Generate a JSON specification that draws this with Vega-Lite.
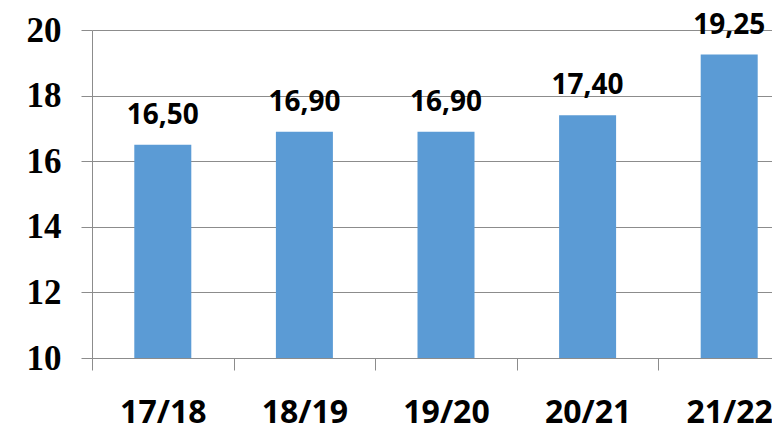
{
  "$schema": "https://vega.github.io/schema/vega-lite/v6.json",
  "autosize": "none",
  "width": 708,
  "height": 328,
  "padding": {"left": 92, "top": 30, "right": 0, "bottom": 75},
  "background": "white",
  "config": {"view": {"stroke": null}},
  "data": {"values": [
    {"season": "17/18", "value": 16.5, "label": "16,50"},
    {"season": "18/19", "value": 16.9, "label": "16,90"},
    {"season": "19/20", "value": 16.9, "label": "16,90"},
    {"season": "20/21", "value": 17.4, "label": "17,40"},
    {"season": "21/22", "value": 19.25, "label": "19,25"}
  ]},
  "encoding": {
    "x": {"field": "season", "type": "nominal", "sort": null,
      "scale": {"paddingInner": 0, "paddingOuter": 0},
      "axis": {"title": null, "labelAngle": 0, "tickBand": "extent", "tickSize": 12,
        "tickColor": "#8c8c8c", "domainColor": "#8c8c8c", "labelFont": "Open Sans",
        "labelFontWeight": "bold", "labelFontSize": 32, "labelColor": "black", "labelPadding": 27}},
    "y": {"field": "value", "type": "quantitative",
      "scale": {"domain": [10, 20], "nice": false, "zero": false},
      "axis": {"title": null, "values": [10, 12, 14, 16, 18, 20], "tickSize": 11,
        "tickColor": "#8c8c8c", "domainColor": "#8c8c8c", "gridColor": "#8c8c8c",
        "labelFont": "Liberation Serif, Times New Roman, serif", "labelFontWeight": "bold", "labelFontSize": 35,
        "labelColor": "black", "labelPadding": 20}}
  },
  "layer": [
    {"mark": {"type": "bar", "size": 57, "color": "#5B9BD5", "clip": true}},
    {"mark": {"type": "text", "baseline": "alphabetic", "dy": -21, "font": "Open Sans",
      "fontWeight": "bold", "fontSize": 28, "color": "black"},
      "encoding": {"text": {"field": "label"}}}
  ]
}
